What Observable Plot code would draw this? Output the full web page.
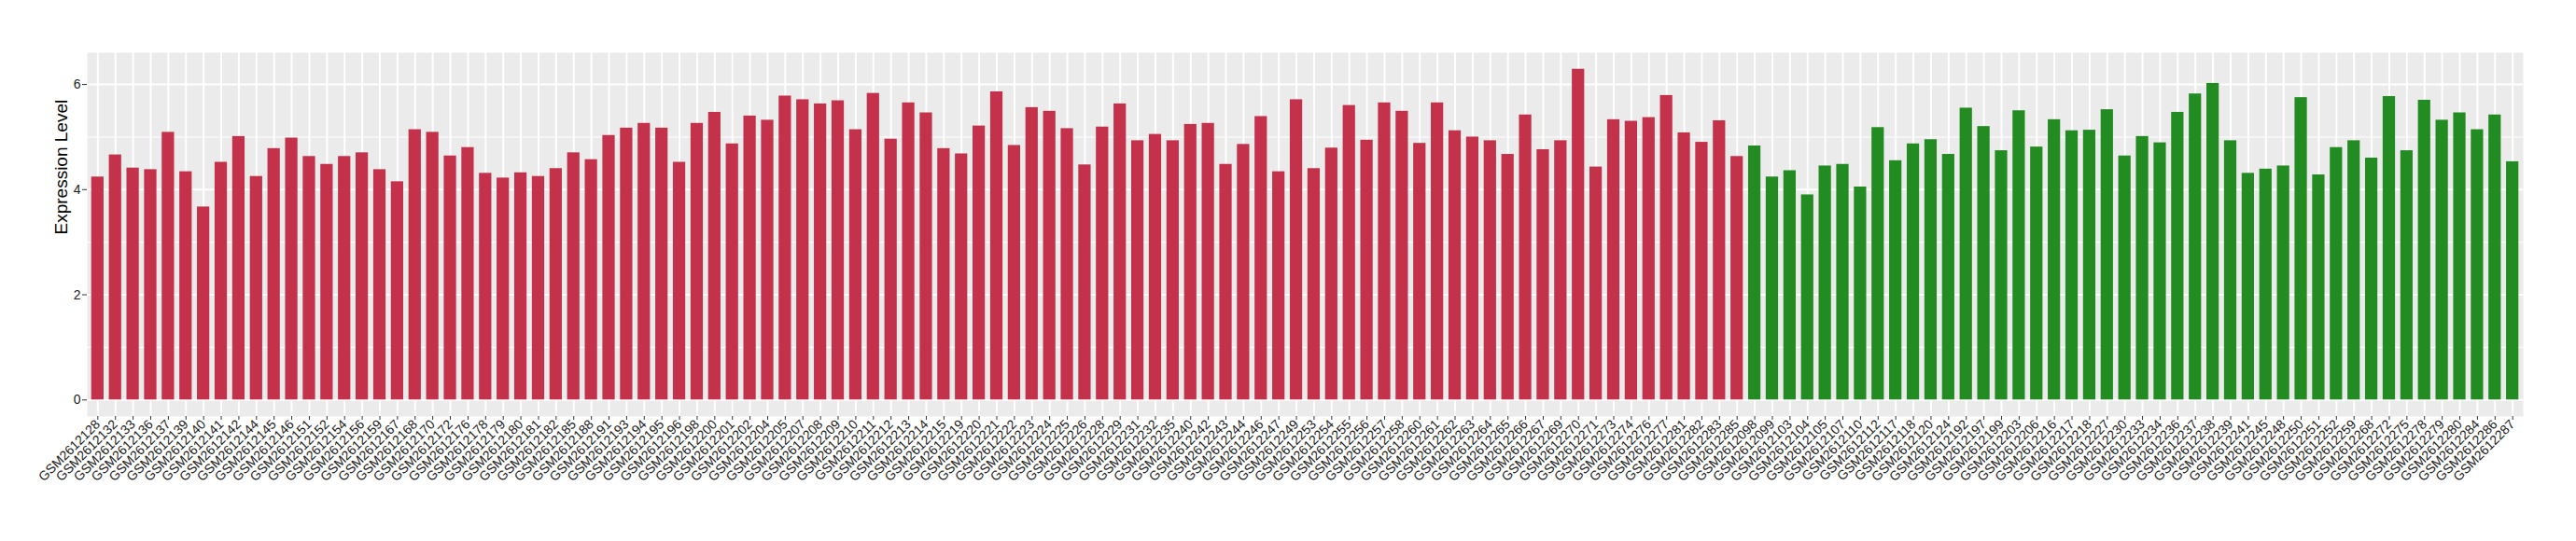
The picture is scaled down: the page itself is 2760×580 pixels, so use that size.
<!DOCTYPE html>
<html><head><meta charset="utf-8">
<script src="https://cdn.jsdelivr.net/npm/d3@7"></script>
<script src="https://cdn.jsdelivr.net/npm/@observablehq/plot@0.6"></script>
<style>body{margin:0;background:#fff;}</style>
</head><body><div id="chart"></div>
<script>
const redSamples = ["GSM2612128","GSM2612132","GSM2612133","GSM2612136","GSM2612137","GSM2612139","GSM2612140","GSM2612141","GSM2612142","GSM2612144","GSM2612145","GSM2612146","GSM2612151","GSM2612152","GSM2612154","GSM2612156","GSM2612159","GSM2612167","GSM2612168","GSM2612170","GSM2612172","GSM2612176","GSM2612178","GSM2612179","GSM2612180","GSM2612181","GSM2612182","GSM2612185","GSM2612188","GSM2612191","GSM2612193","GSM2612194","GSM2612195","GSM2612196","GSM2612198","GSM2612200","GSM2612201","GSM2612202","GSM2612204","GSM2612205","GSM2612207","GSM2612208","GSM2612209","GSM2612210","GSM2612211","GSM2612212","GSM2612213","GSM2612214","GSM2612215","GSM2612219","GSM2612220","GSM2612221","GSM2612222","GSM2612223","GSM2612224","GSM2612225","GSM2612226","GSM2612228","GSM2612229","GSM2612231","GSM2612232","GSM2612235","GSM2612240","GSM2612242","GSM2612243","GSM2612244","GSM2612246","GSM2612247","GSM2612249","GSM2612253","GSM2612254","GSM2612255","GSM2612256","GSM2612257","GSM2612258","GSM2612260","GSM2612261","GSM2612262","GSM2612263","GSM2612264","GSM2612265","GSM2612266","GSM2612267","GSM2612269","GSM2612270","GSM2612271","GSM2612273","GSM2612274","GSM2612276","GSM2612277","GSM2612281","GSM2612282","GSM2612283","GSM2612285"];
const redValues = [4.24,4.66,4.41,4.38,5.09,4.34,3.67,4.52,5.01,4.25,4.78,4.98,4.63,4.48,4.63,4.70,4.38,4.15,5.14,5.09,4.64,4.80,4.31,4.22,4.32,4.25,4.40,4.70,4.57,5.03,5.17,5.26,5.17,4.52,5.26,5.47,4.87,5.40,5.32,5.78,5.71,5.63,5.69,5.14,5.83,4.96,5.65,5.46,4.78,4.68,5.21,5.86,4.84,5.56,5.49,5.16,4.47,5.19,5.63,4.93,5.05,4.93,5.24,5.26,4.48,4.86,5.39,4.34,5.71,4.40,4.79,5.60,4.94,5.65,5.49,4.88,5.65,5.12,5.00,4.93,4.67,5.42,4.76,4.93,6.29,4.43,5.33,5.30,5.37,5.79,5.08,4.90,5.31,4.63];
const greenSamples = ["GSM2612098","GSM2612099","GSM2612103","GSM2612104","GSM2612105","GSM2612107","GSM2612110","GSM2612112","GSM2612117","GSM2612118","GSM2612120","GSM2612124","GSM2612192","GSM2612197","GSM2612199","GSM2612203","GSM2612206","GSM2612216","GSM2612217","GSM2612218","GSM2612227","GSM2612230","GSM2612233","GSM2612234","GSM2612236","GSM2612237","GSM2612238","GSM2612239","GSM2612241","GSM2612245","GSM2612248","GSM2612250","GSM2612251","GSM2612252","GSM2612259","GSM2612268","GSM2612272","GSM2612275","GSM2612278","GSM2612279","GSM2612280","GSM2612284","GSM2612286","GSM2612287"];
const greenValues = [4.83,4.24,4.36,3.90,4.45,4.48,4.05,5.18,4.55,4.87,4.95,4.67,5.55,5.20,4.74,5.50,4.81,5.33,5.12,5.13,5.52,4.64,5.01,4.89,5.47,5.82,6.02,4.93,4.31,4.39,4.45,5.75,4.28,4.80,4.93,4.60,5.77,4.74,5.70,5.32,5.46,5.14,5.42,4.53];
const groups = ["group1", "group2"];
const yTicks = [0, 2, 4, 6];
const yMinor = [1, 3, 5];
const yTitle = "Expression Level";

const data = [];
redSamples.forEach((s, i) => data.push({sample: s, value: redValues[i], group: groups[0]}));
greenSamples.forEach((s, i) => data.push({sample: s, value: greenValues[i], group: groups[1]}));

const chart = Plot.plot({
  width: 2760, height: 580,
  marginLeft: 93, marginRight: 57, marginTop: 56, marginBottom: 134,
  style: {fontFamily: "'Liberation Sans', Arial, sans-serif", fontSize: "14px", background: "#fff"},
  x: {domain: data.map(d => d.sample), paddingInner: 0.3, paddingOuter: 0.25, round: false, label: null},
  y: {domain: [-0.3145, 6.6045], label: null},
  color: {domain: groups, range: ["#C3314A", "#228B22"]},
  marks: [
    Plot.frame({fill: "#EBEBEB", stroke: null}),
    Plot.gridY(yMinor, {stroke: "#fff", strokeOpacity: 1, strokeWidth: 1}),
    Plot.gridY(yTicks, {stroke: "#fff", strokeOpacity: 1, strokeWidth: 2}),
    Plot.gridX({stroke: "#fff", strokeOpacity: 1, strokeWidth: 2}),
    Plot.barY(data, {x: "sample", y: "value", fill: "group"}),
    Plot.axisY(yTicks, {tickSize: 5, tickPadding: 2, tickFormat: d => String(d), stroke: "#333", fill: "#1a1a1a", label: null, fontSize: 14}),
    Plot.axisX({tickSize: 4, tickPadding: 2, tickRotate: -45, stroke: "#333", fill: "#1a1a1a", label: null, fontSize: 14}),
    Plot.text([yTitle], {frameAnchor: "left", dx: -28, rotate: -90, fontSize: 19, fill: "#000", lineAnchor: "middle"})
  ]
});
document.getElementById("chart").appendChild(chart);
</script>
</body></html>
